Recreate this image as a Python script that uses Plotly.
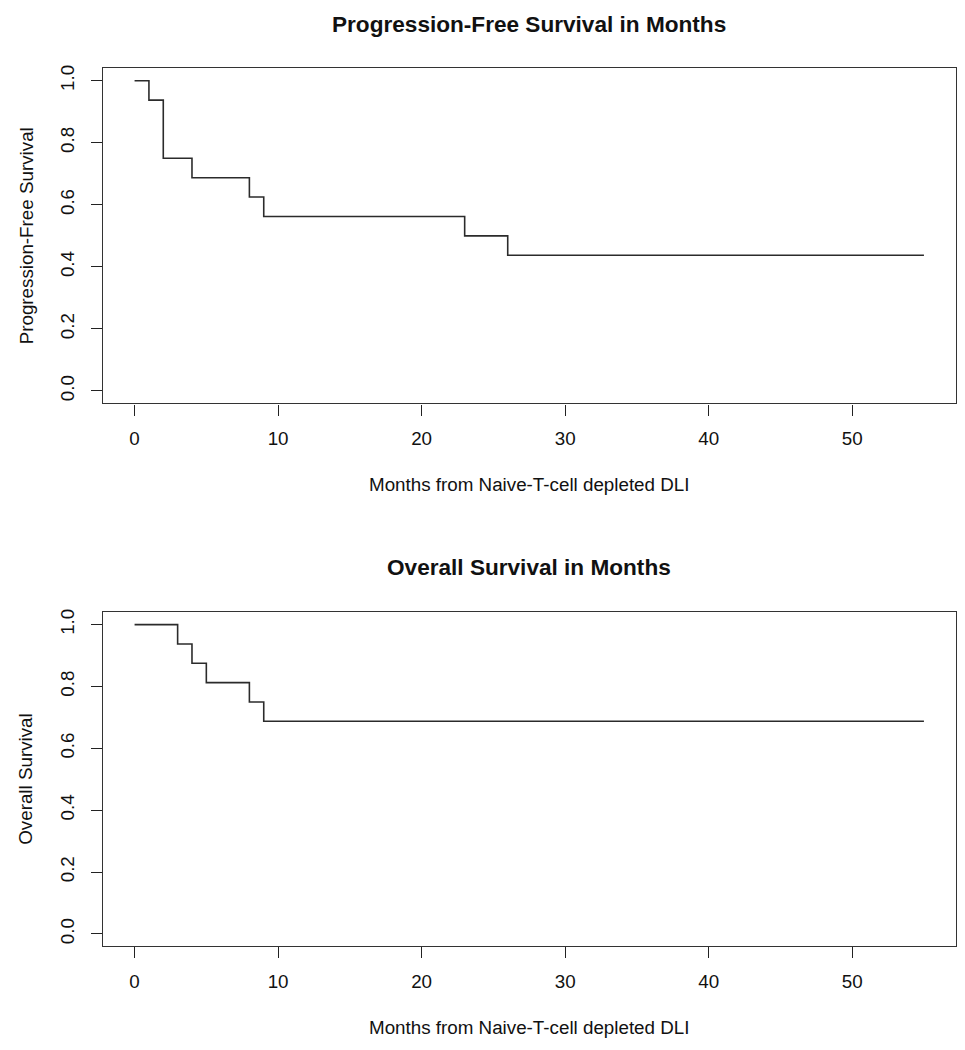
import plotly.graph_objects as go

# Kaplan-Meier step data (months, survival)
pfs_time = [0, 1, 2, 4, 8, 9, 23, 26, 55]
pfs_surv = [1.0, 0.9375, 0.75, 0.6875, 0.625, 0.5625, 0.5, 0.4375, 0.4375]

os_time = [0, 3, 4, 5, 8, 9, 55]
os_surv = [1.0, 0.9375, 0.875, 0.8125, 0.75, 0.6875, 0.6875]

x_ticks = [0, 10, 20, 30, 40, 50]
y_ticks = [0.0, 0.2, 0.4, 0.6, 0.8, 1.0]

titles = ["Progression-Free Survival in Months", "Overall Survival in Months"]
y_titles = ["Progression-Free Survival", "Overall Survival"]
x_title = "Months from Naive-T-cell depleted DLI"

# page has an 8px body margin; size figure so it fits 965x1050 window
OFF = 8
W, H = 965 - OFF, 1050 - OFF
FONT = "Liberation Sans, Arial, Helvetica, sans-serif"
LINE = "#2b2b2b"
AX = "#333333"
FS = 18.8
TFS = 22.6


def px_x(x):
    return (x - OFF) / W


def px_y(y):
    return 1 - (y - OFF) / H


fig = go.Figure()

fig.add_trace(go.Scatter(x=pfs_time, y=pfs_surv, mode="lines", line=dict(shape="hv", color=LINE, width=1.6),
                         xaxis="x", yaxis="y", showlegend=False, hoverinfo="x+y"))
fig.add_trace(go.Scatter(x=os_time, y=os_surv, mode="lines", line=dict(shape="hv", color=LINE, width=1.6),
                         xaxis="x2", yaxis="y2", showlegend=False, hoverinfo="x+y"))

x_dom = [px_x(103), px_x(955.5)]
top_dom = [px_y(401.5), px_y(65.5)]
bot_dom = [px_y(946), px_y(611)]


def xaxis(anchor):
    return dict(domain=x_dom, anchor=anchor, range=[-2.2, 57.2], tickvals=x_ticks,
                ticks="outside", ticklen=11, tickwidth=1.3, tickcolor="#222",
                showline=True, linecolor=AX, linewidth=1.3, mirror=True,
                showgrid=False, zeroline=False, ticklabelstandoff=7,
                tickfont=dict(family=FONT, size=FS, color="#111"))


def yaxis(anchor, dom):
    return dict(domain=dom, anchor=anchor, range=[-0.04, 1.04], tickvals=y_ticks,
                ticktext=[f"{v:.1f}" for v in y_ticks], tickangle=-90,
                ticks="outside", ticklen=11, tickwidth=1.3, tickcolor="#222",
                showline=True, linecolor=AX, linewidth=1.3, mirror=True,
                showgrid=False, zeroline=False, ticklabelstandoff=9,
                tickfont=dict(family=FONT, size=FS, color="#111"))


xc = (x_dom[0] + x_dom[1]) / 2
ann = []
for title, ytitle, ty, xy, yy in [(titles[0], y_titles[0], 22, 483, 234),
                                   (titles[1], y_titles[1], 566, 1027, 778)]:
    ann.append(dict(text=f"<b>{title}</b>", x=xc, y=px_y(ty), xref="paper", yref="paper", showarrow=False,
                    font=dict(family=FONT, size=TFS, color="#111"), xanchor="center", yanchor="middle"))
    ann.append(dict(text=x_title, x=xc, y=px_y(xy), xref="paper", yref="paper", showarrow=False,
                    font=dict(family=FONT, size=FS, color="#111"), xanchor="center", yanchor="middle"))
    ann.append(dict(text=ytitle, x=px_x(26), y=px_y(yy), xref="paper", yref="paper", showarrow=False,
                    textangle=-90, font=dict(family=FONT, size=FS, color="#111"),
                    xanchor="center", yanchor="middle"))

fig.update_layout(
    width=W, height=H,
    margin=dict(l=0, r=0, t=0, b=0),
    paper_bgcolor="white", plot_bgcolor="white",
    xaxis=xaxis("y"), yaxis=yaxis("x", top_dom),
    xaxis2=xaxis("y2"), yaxis2=yaxis("x2", bot_dom),
    annotations=ann,
)

fig.write_html("out.html")
